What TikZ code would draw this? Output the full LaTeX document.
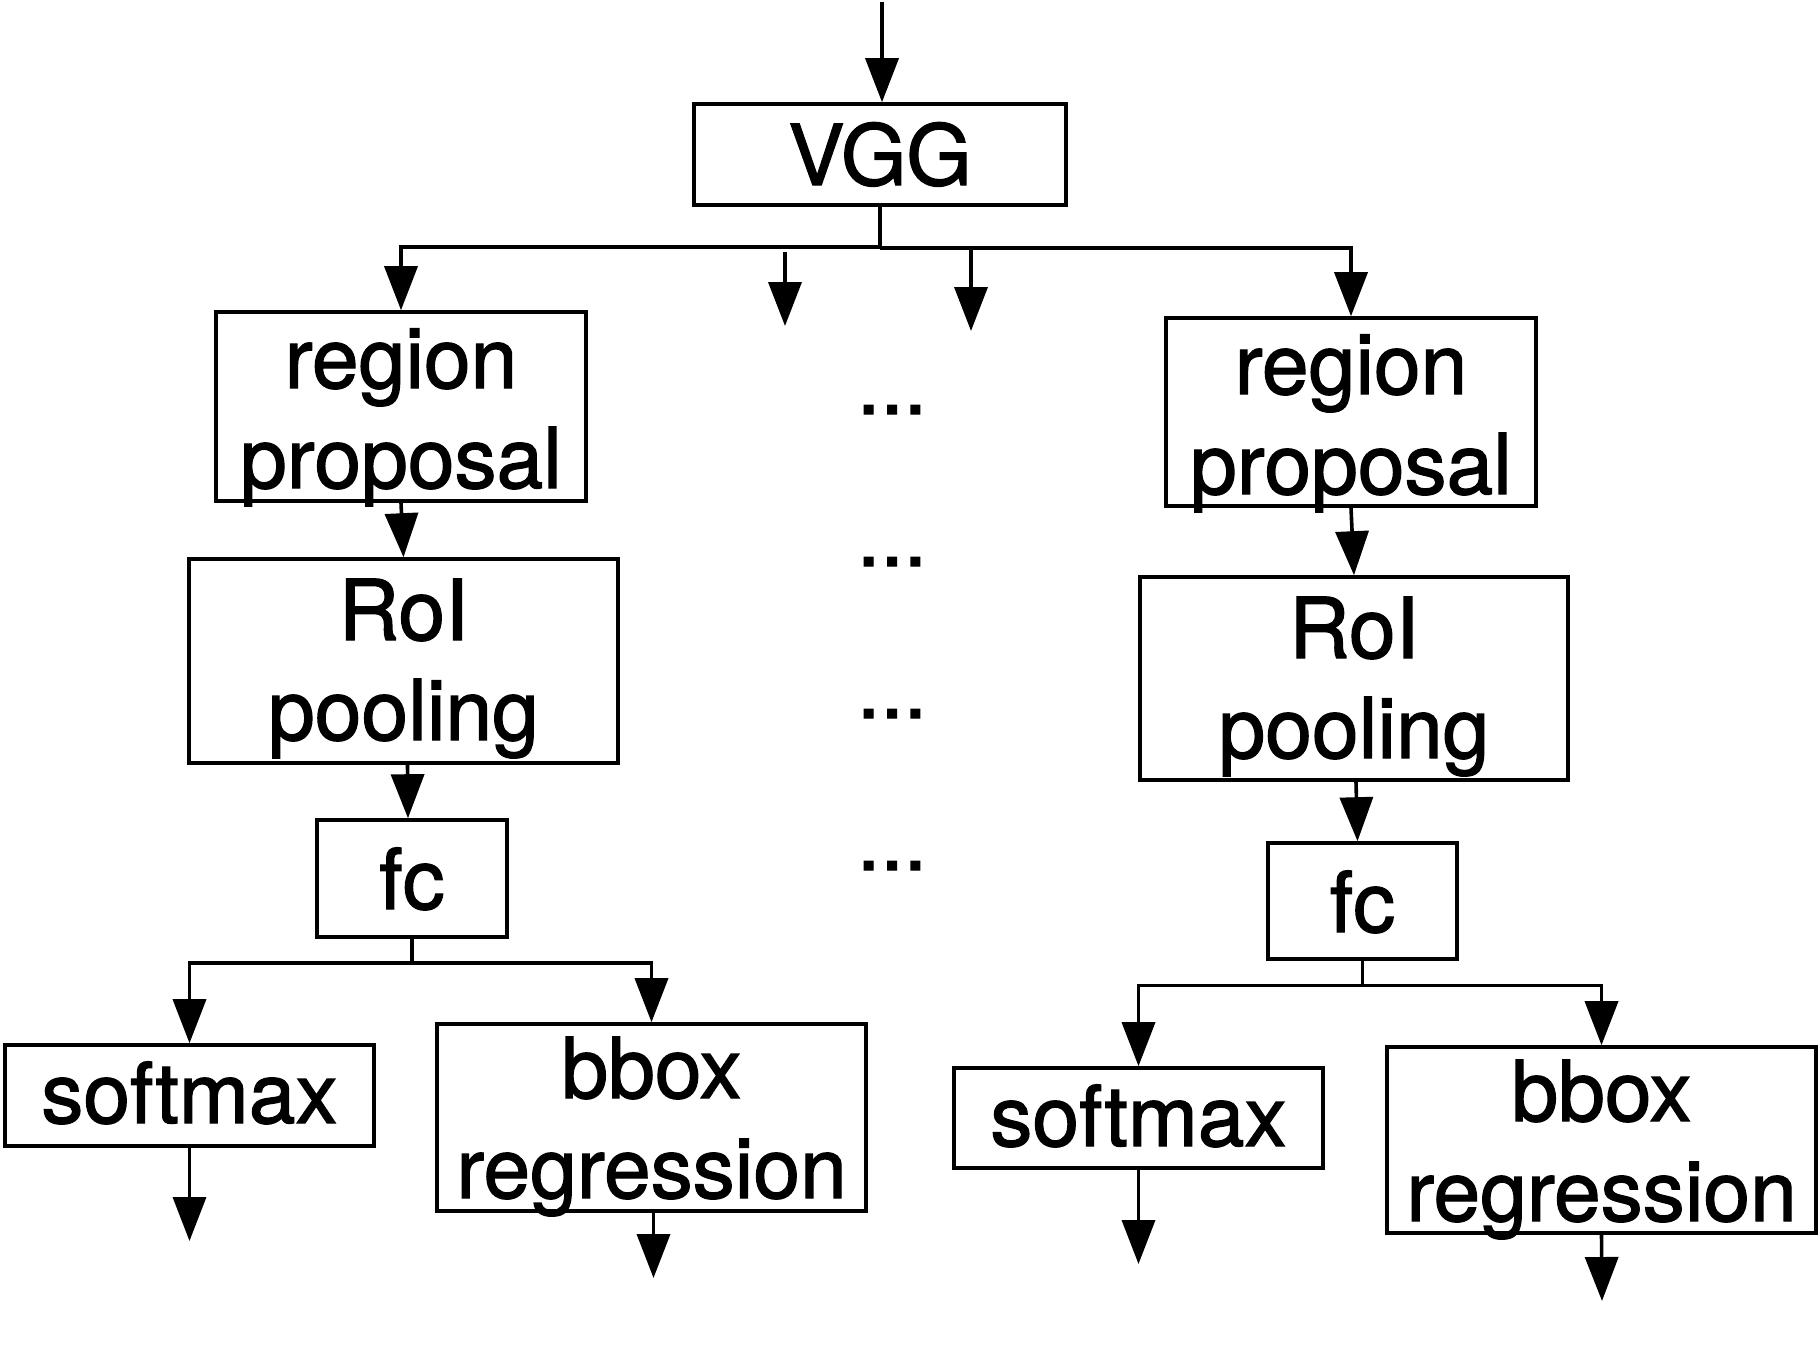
\documentclass[tikz,border=0pt]{standalone}
\usepackage{fontspec}
\setmainfont{TeX Gyre Heros}[FakeBold=1.5]
\usetikzlibrary{arrows.meta}
\begin{document}
\begin{tikzpicture}[x=0.5pt,y=-0.5pt,
  box/.style={draw,line width=1.8pt,rectangle,inner sep=0pt},
  lbl/.style={anchor=base,inner sep=0pt,font=\fontsize{42}{50}\selectfont},
  arr/.style={line width=1.8pt,-{Triangle[length=22pt,width=16.5pt]}},
  ln/.style={line width=1.8pt}]
\useasboundingbox (0,0) rectangle (1820,1362);
% boxes
\node[box,minimum width=186pt,minimum height=50.5pt] (vgg) at (880,154.5) {};
\node[box,minimum width=185pt,minimum height=94.5pt] (rpL) at (401,406.5) {};
\node[box,minimum width=214.5pt,minimum height=102pt] (roiL) at (403.5,661) {};
\node[box,minimum width=95pt,minimum height=58.5pt] (fcL) at (412,878.5) {};
\node[box,minimum width=184.5pt,minimum height=50.5pt] (smL) at (189.5,1095.5) {};
\node[box,minimum width=214.5pt,minimum height=93.5pt] (bbL) at (651.5,1117.5) {};
\node[box,minimum width=185pt,minimum height=94pt] (rpR) at (1351,412) {};
\node[box,minimum width=214pt,minimum height=101.5pt] (roiR) at (1354,678.5) {};
\node[box,minimum width=94.5pt,minimum height=58pt] (fcR) at (1362.5,901) {};
\node[box,minimum width=184.5pt,minimum height=50pt] (smR) at (1138.5,1118) {};
\node[box,minimum width=214.5pt,minimum height=93pt] (bbR) at (1601.5,1140) {};
% texts
\node[lbl] (tvgg) at (880,185) {VGG};
\node[lbl] (trpL1) at (401,388) {region};
\node[lbl] (trpL2) at (401,488) {proposal};
\node[lbl] (troiL1) at (403.5,640) {RoI};
\node[lbl] (troiL2) at (403.5,740) {pooling};
\node[lbl] (tfcL) at (412,909) {fc};
\node[lbl] (tsmL) at (189.5,1123) {softmax};
\node[lbl] (tbbL1) at (651.5,1098) {bbox};
\node[lbl] (tbbL2) at (651.5,1198) {regression};
\node[lbl] (trpR1) at (1351,394) {region};
\node[lbl] (trpR2) at (1351,494) {proposal};
\node[lbl] (troiR1) at (1354,658) {RoI};
\node[lbl] (troiR2) at (1354,758) {pooling};
\node[lbl] (tfcR) at (1362.5,932) {fc};
\node[lbl] (tsmR) at (1138.5,1146) {softmax};
\node[lbl] (tbbR1) at (1601.5,1121) {bbox};
\node[lbl] (tbbR2) at (1601.5,1221) {regression};
% dots
\node[lbl] (d1) at (892,414) {...};
\node[lbl] (d2) at (892,566) {...};
\node[lbl] (d3) at (892,718) {...};
\node[lbl] (d4) at (892,870) {...};
% coordinates
\coordinate (in) at (882,2);
\coordinate (jT) at (880,247);
\coordinate (jT2) at (880,248);
\coordinate (s1a) at (785,252);
\coordinate (s1b) at (785,326);
\coordinate (s2a) at (971,250);
\coordinate (s2b) at (971,331);
\coordinate (jL) at (412,963);
\coordinate (jR) at (1362.5,985.5);
\coordinate (oSmL) at (189.5,1241);
\coordinate (oBbL) at (653.5,1278);
\coordinate (oSmR) at (1138.5,1264);
\coordinate (oBbR) at (1602,1301);
% connectors
\draw[arr] (in) -- (in |- vgg.north);
\draw[ln] (vgg.south) -- (jT2);
\draw[arr] (jT) -| (rpL.north);
\draw[arr] (jT2) -| (rpR.north);
\draw[arr] (s1a) -- (s1b);
\draw[arr] (s2a) -- (s2b);
\draw[arr] (rpL.south) -- (roiL.north);
\draw[arr] ([xshift=2pt]roiL.south) -- ([xshift=-2pt]fcL.north);
\draw[ln] (fcL.south) -- (jL);
\draw[arr] (jL) -| (smL.north);
\draw[arr] (jL) -| (bbL.north);
\draw[arr] (smL.south) -- (oSmL);
\draw[arr] ([xshift=1pt]bbL.south) -- (oBbL);
\draw[arr] (rpR.south) -- (roiR.north);
\draw[arr] ([xshift=1pt]roiR.south) -- ([xshift=-2.5pt]fcR.north);
\draw[ln] (fcR.south) -- (jR);
\draw[arr] (jR) -| (smR.north);
\draw[arr] (jR) -| (bbR.north);
\draw[arr] (smR.south) -- (oSmR);
\draw[arr] (bbR.south) -- (oBbR);
\end{tikzpicture}
\end{document}
